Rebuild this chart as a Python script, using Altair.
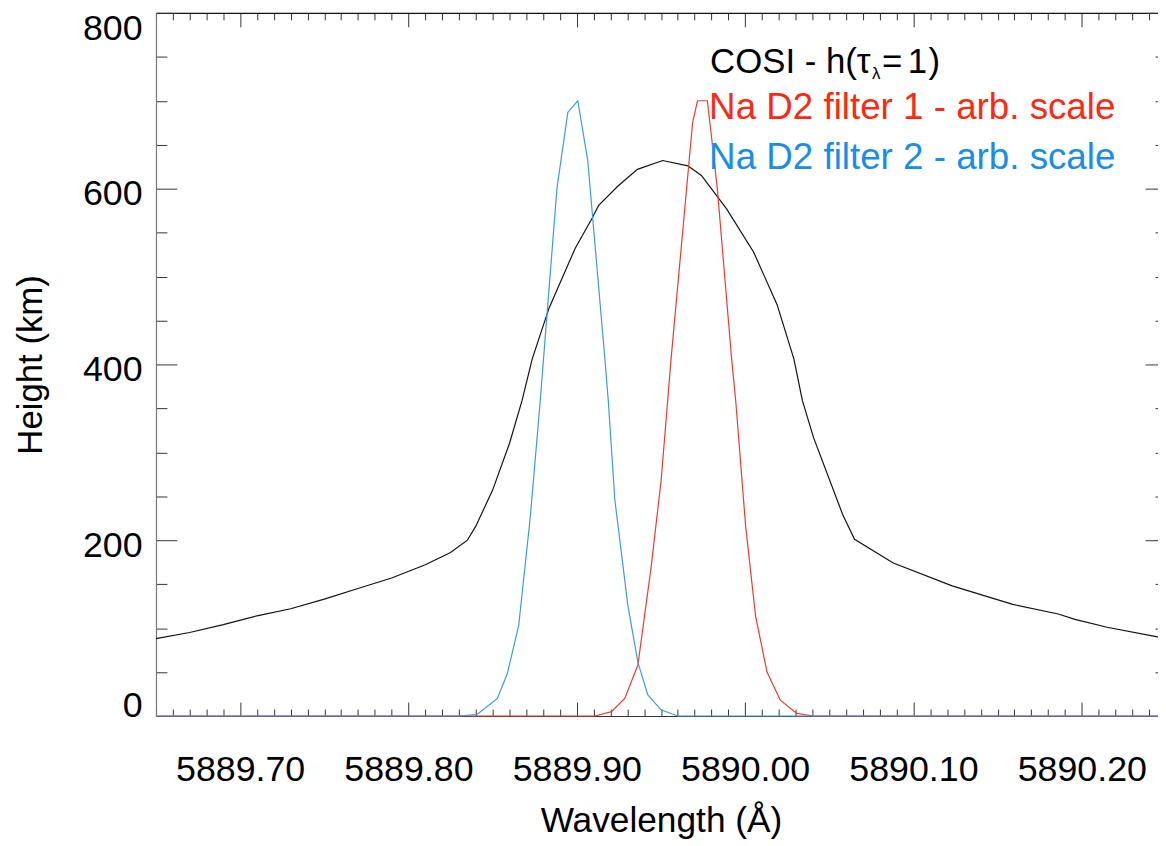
import altair as alt
import pandas as pd

# ---------------- data ----------------
cosi_wl = [5889.650, 5889.670, 5889.690, 5889.710, 5889.730, 5889.750, 5889.770,
           5889.790, 5889.810, 5889.825, 5889.835, 5889.840, 5889.850, 5889.860,
           5889.8675, 5889.8735, 5889.8835, 5889.899, 5889.909, 5889.913, 5889.9245,
           5889.936, 5889.951, 5889.966, 5889.974, 5889.989, 5890.005, 5890.019,
           5890.029, 5890.034, 5890.0406, 5890.058, 5890.065, 5890.088, 5890.123,
           5890.159, 5890.186, 5890.196, 5890.215, 5890.245, 5890.250]
cosi_h = [88, 95, 104, 114, 122, 133, 145,
          157, 172, 186, 200, 216, 257, 310,
          359, 406, 464, 532, 566, 581, 603,
          622, 632, 626, 615, 577, 528, 468,
          406, 359, 317, 229, 201, 174, 148,
          127, 116, 110, 101, 90, 88]

filter1_wl = [5889.650, 5889.9108, 5889.9206, 5889.9285, 5889.9363, 5889.9442, 5889.9501,
              5889.9540, 5889.9560, 5889.9688, 5889.9717, 5889.9776, 5889.9835, 5889.9920,
              5889.9944, 5890.0003, 5890.0062, 5890.0130, 5890.0209, 5890.0307, 5890.0406,
              5890.250]
filter1_h = [0, 0, 5, 20, 58, 170, 268,
             359, 406, 675, 700, 700, 600, 406,
             359, 216, 114, 50, 18, 3, 0,
             0]

filter2_wl = [5889.650, 5889.830, 5889.841, 5889.8528, 5889.8587, 5889.8655, 5889.8724,
              5889.8783, 5889.8803, 5889.8882, 5889.8947, 5889.9006, 5889.9065, 5889.9167,
              5889.9187, 5889.9226, 5889.9304, 5889.9363, 5889.9422, 5889.950, 5889.960,
              5890.250]
filter2_h = [0, 0, 2, 20, 48, 103, 227,
             359, 408, 600, 687, 700, 632, 406,
             359, 246, 125, 61, 24, 7, 0,
             0]

x_major = [5889.70, 5889.80, 5889.90, 5890.00, 5890.10, 5890.20]
y_major = [0, 200, 400, 600, 800]
x_minor = [round(5889.65 + 0.01 * i, 2) for i in range(61)]
y_minor = list(range(0, 801, 50))

series_names = ["COSI - h(τλ=1)", "Na D2 filter 1 - arb. scale", "Na D2 filter 2 - arb. scale"]
line_colors = ["#111111", "#ec3b2e", "#3a9ae6"]
text_colors = ["#000000", "#fa2a14", "#1a8cec"]

# ---------------- layout ----------------
W, H = 1009, 708
PX_PER_A = 1695.0
X_DOMAIN = [5889.65, 5889.65 + W / PX_PER_A]
Y_DOMAIN = [0, 800]
FULL_W = 0.60 * PX_PER_A  # the original frame runs on to 5890.25, past the picture
FONT = "Liberation Sans"

xs = alt.Scale(domain=X_DOMAIN, nice=False, zero=False)
ys = alt.Scale(domain=Y_DOMAIN, nice=False, zero=False)


def frame(wl, h, name):
    return pd.DataFrame({"wl": wl, "h": h, "series": name})


df_cosi = frame(cosi_wl, cosi_h, series_names[0])
df_f1 = frame(filter1_wl, filter1_h, series_names[1])
df_f2 = frame(filter2_wl, filter2_h, series_names[2])
df_dummy = pd.DataFrame({"wl": X_DOMAIN, "h": Y_DOMAIN})

x_label_axis = alt.Axis(
    orient="bottom", values=x_major, format=".2f", ticks=False, tickSize=0,
    domain=True, domainColor="#333333", domainWidth=1.2, grid=False,
    labelFont=FONT, labelFontSize=36, labelColor="#000000", labelPadding=37,
    labelFlush=False, title="Wavelength (Å)", titleFont=FONT, titleFontSize=35.5,
    titleFontWeight="normal", titleColor="#000000",
    titleX=FULL_W / 2, titleY=116.5, titleAlign="center", titleBaseline="alphabetic",
)
y_label_axis = alt.Axis(
    orient="left", values=y_major, ticks=False, tickSize=0,
    domain=True, domainColor="#777777", domainWidth=1.2, grid=False,
    labelFont=FONT, labelFontSize=36, labelColor="#000000", labelPadding=14,
    labelFlush=True, labelFlushOffset=2,
    labelOffset={"condition": [{"test": "datum.value == 800", "value": 1},
                               {"test": "datum.value == 0", "value": 7}],
                 "value": 5},
    title="Height (km)", titleFont=FONT, titleFontSize=35,
    titleFontWeight="normal", titleColor="#000000",
    titleX=-115, titleY=H / 2, titleAlign="center", titleBaseline="alphabetic",
    titleAngle=270,
)

x_test = "abs(datum.value*10 - round(datum.value*10)) < 0.001"
y_test = "datum.value % 200 == 0"


def tick_axis(orient, values, test, major, minor, offset, domain=False):
    return alt.Axis(
        orient=orient, values=values, labels=False, title=None, grid=False,
        domain=domain, domainColor="#111111", domainWidth=1.2,
        offset=offset, tickColor="#333333", tickWidth=1,
        tickSize={"condition": {"test": test, "value": major}, "value": minor},
    )


cosi_line = alt.Chart(df_cosi).mark_line(
    color=line_colors[0], strokeWidth=1.2
).encode(
    x=alt.X("wl:Q", scale=xs, axis=x_label_axis),
    y=alt.Y("h:Q", scale=ys, axis=y_label_axis),
)

f1_line = alt.Chart(df_f1).mark_line(
    color=line_colors[1], strokeWidth=1.2
).encode(
    x=alt.X("wl:Q", scale=xs, axis=None),
    y=alt.Y("h:Q", scale=ys, axis=None),
)

f2_line = alt.Chart(df_f2).mark_line(
    color=line_colors[2], strokeWidth=1.2
).encode(
    x=alt.X("wl:Q", scale=xs, axis=None),
    y=alt.Y("h:Q", scale=ys, axis=None),
)

# inward ticks: bottom and left edges
ticks_bl = alt.Chart(df_dummy).mark_point(opacity=0, size=1, clip=True).encode(
    x=alt.X("wl:Q", scale=xs, axis=tick_axis("top", x_minor, x_test, 14, 7, -H)),
    y=alt.Y("h:Q", scale=ys, axis=tick_axis("right", y_minor, y_test, 21, 11, -W)),
)
# inward ticks: top and right edges (right edge lies just past the picture)
ticks_tr = alt.Chart(df_dummy).mark_point(opacity=0, size=1, clip=True).encode(
    x=alt.X("wl:Q", scale=xs, axis=tick_axis("bottom", x_minor, x_test, 14, 7, -H, domain=True)),
    y=alt.Y("h:Q", scale=ys, axis=tick_axis("left", y_minor, y_test, 13, 3, -W)),
)


# legend text
def legend_text(text, x, y, color, size=35):
    return alt.Chart(pd.DataFrame({"t": [text]})).mark_text(
        font=FONT, fontSize=size, align="left", baseline="alphabetic", color=color
    ).encode(text="t:N", x=alt.value(x), y=alt.value(y))


leg = (
    legend_text("COSI - h(τ", 558, 60.5, text_colors[0])
    + legend_text("λ", 721, 67, text_colors[0], size=17)
    + legend_text("=", 731, 60.5, text_colors[0])
    + legend_text("1", 757, 60.5, text_colors[0])
    + legend_text(")", 778, 60.5, text_colors[0])
    + legend_text(series_names[1], 557, 107.2, text_colors[1], size=37)
    + legend_text(series_names[2], 557, 157.2, text_colors[2], size=37)
)

chart = alt.layer(
    ticks_bl, ticks_tr, cosi_line, f1_line, f2_line, leg
).resolve_axis(
    x="independent", y="independent"
).properties(
    width=W, height=H,
    autosize=alt.AutoSizeParams(type="none"),
    padding={"left": 149, "top": 2, "right": 0, "bottom": 128},
    background="#ffffff",
).configure_view(stroke=None)

chart.save("out.html", embed_options={"renderer": "svg", "actions": False})
